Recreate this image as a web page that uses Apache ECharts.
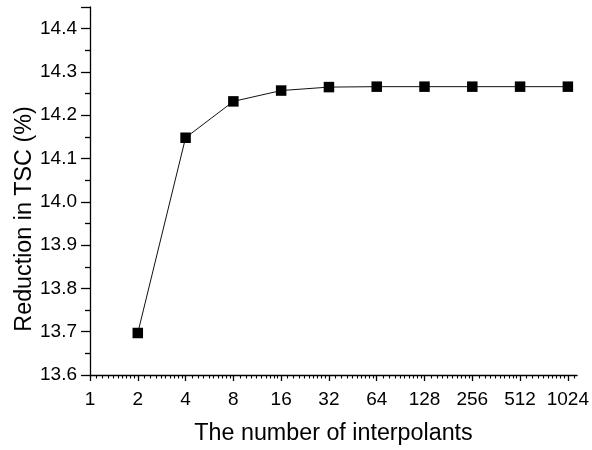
<!DOCTYPE html>
<html>
<head>
<meta charset="utf-8">
<script src="https://cdn.jsdelivr.net/npm/echarts@6/dist/echarts.min.js"></script>
<style>
  html, body { margin: 0; padding: 0; background: #fff; }
  #chart { width: 592px; height: 450px; }
</style>
</head>
<body>
<div id="chart"></div>
<script>
// Number of interpolants (log2 axis) and the resulting reduction in TSC
const interpolants = [2, 4, 8, 16, 32, 64, 128, 256, 512, 1024];
const reductionTSC = [13.697, 14.148, 14.232, 14.257, 14.265, 14.266, 14.266, 14.266, 14.266, 14.266];

// Major tick / label positions on the x axis
const xMajorTicks = [1, 2, 4, 8, 16, 32, 64, 128, 256, 512, 1024];
// Minor ticks: nine linear subdivisions inside every octave
const xMinorTicks = [];
for (const base of xMajorTicks) {
  for (let k = 1; k <= 9; k++) xMinorTicks.push(base * (1 + k / 10));
}

const FONT = 'Liberation Sans, Arial, sans-serif';
const X_MIN = 1, X_MAX = 1170;

const chart = echarts.init(document.getElementById('chart'), null, { renderer: 'canvas' });

const axisLine = { show: true, lineStyle: { color: '#000', width: 1.3 } };

chart.setOption({
  animation: false,
  backgroundColor: '#fff',
  grid: { left: 90, right: 10, top: 7, bottom: 71, containLabel: false },
  xAxis: [
    {
      type: 'log',
      logBase: 2,
      min: X_MIN,
      max: X_MAX,
      axisLine: axisLine,
      splitLine: { show: false },
      axisTick: { show: true, inside: false, length: 6, customValues: xMajorTicks,
                  lineStyle: { color: '#000', width: 1.3 } },
      axisLabel: { show: true, customValues: xMajorTicks, margin: 15,
                   color: '#000', fontFamily: FONT, fontSize: 19,
                   formatter: v => String(Math.round(v)) },
      name: 'The number of interpolants',
      nameLocation: 'middle',
      nameGap: 47,
      nameMoveOverlap: false,
      nameTextStyle: { color: '#000', fontFamily: FONT, fontSize: 23.3 }
    },
    {
      // minor tick row sharing the same scale
      type: 'log',
      logBase: 2,
      min: X_MIN,
      max: X_MAX,
      position: 'bottom',
      axisLine: { show: false },
      splitLine: { show: false },
      axisTick: { show: true, inside: false, length: 3.5, customValues: xMinorTicks,
                  lineStyle: { color: '#000', width: 1.1 } },
      axisLabel: { show: false }
    }
  ],
  yAxis: {
    type: 'value',
    min: 13.6,
    max: 14.45,
    interval: 0.1,
    axisLine: axisLine,
    splitLine: { show: false },
    axisTick: { show: true, inside: false, length: 9, lineStyle: { color: '#000', width: 1.3 } },
    minorTick: { show: true, splitNumber: 2, length: 5, lineStyle: { color: '#000', width: 1.3 } },
    axisLabel: {
      margin: 13, color: '#000', fontFamily: FONT, fontSize: 19,
      showMaxLabel: false,
      formatter: v => v.toFixed(1)
    },
    name: 'Reduction in TSC (%)',
    nameLocation: 'middle',
    nameGap: 54,
    nameMoveOverlap: false,
    nameTextStyle: { color: '#000', fontFamily: FONT, fontSize: 23.3, padding: [0, 56, 0, 0] }
  },
  series: [{
    type: 'line',
    xAxisIndex: 0,
    data: interpolants.map((n, i) => [n, reductionTSC[i]]),
    symbol: 'rect',
    symbolSize: 10.5,
    itemStyle: { color: '#000' },
    lineStyle: { color: '#111', width: 1 }
  }]
});
</script>
</body>
</html>
